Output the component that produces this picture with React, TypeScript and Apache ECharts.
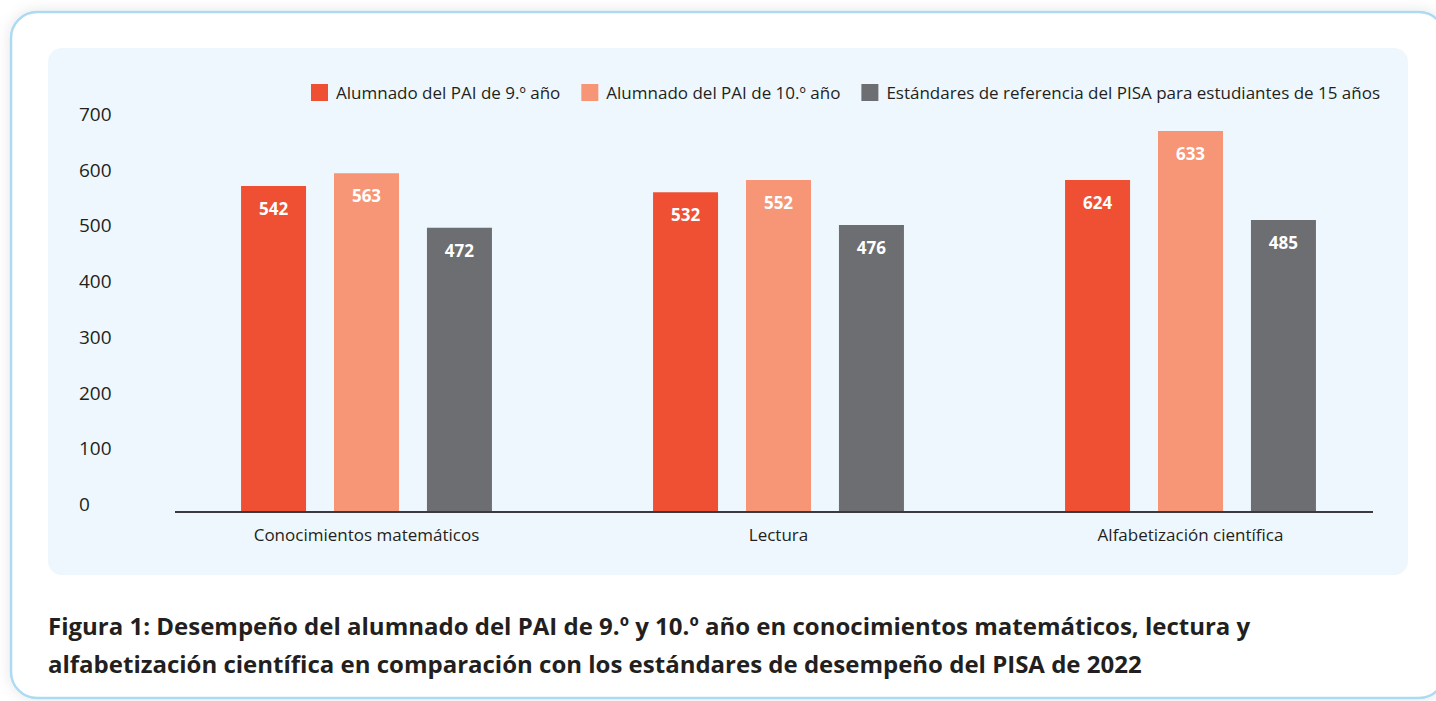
import React, { useEffect, useRef } from "react";
import * as echarts from "echarts";

const categories = ["Conocimientos matemáticos", "Lectura", "Alfabetización científica"];
const seriesNames = [
  "Alumnado del PAI de 9.º año",
  "Alumnado del PAI de 10.º año",
  "Estándares de referencia del PISA para estudiantes de 15 años",
];
// bar heights as drawn in the figure (axis units)
const drawn9 = [585, 574, 596];
const drawn10 = [608, 596, 684];
const drawnPisa = [510, 515, 524];
// values printed on the bars
const printed9 = [542, 532, 624];
const printed10 = [563, 552, 633];
const printedPisa = [472, 476, 485];
const yTicks = [0, 100, 200, 300, 400, 500, 600, 700];

const colors = ["#ef5033", "#f69676", "#6d6e71"];
const FONT = "Open Sans";
const TEXT = "#231f20";

export default function App() {
  const ref = useRef<HTMLDivElement>(null);
  useEffect(() => {
    if (!ref.current) return;
    const chart = echarts.init(ref.current, undefined, { renderer: "svg" });
    const mkSeries = (i: number, data: number[], printed: number[]) => ({
      name: seriesNames[i],
      type: "bar",
      data,
      barWidth: 65,
      barGap: "43%",
      itemStyle: { color: colors[i] },
      label: {
        show: true,
        position: "insideTop",
        distance: 14,
        color: "#ffffff",
        fontFamily: FONT,
        fontWeight: "bold",
        fontSize: 17,
        formatter: (p: any) => String(printed[p.dataIndex]),
      },
    });
    chart.setOption({
      animation: false,
      backgroundColor: "#ffffff",
      textStyle: { fontFamily: FONT },
      graphic: [
        {
          type: "rect",
          z: -10,
          shape: { x: 11, y: 12, width: 1434, height: 686, r: 26 },
          style: {
            fill: "#ffffff",
            stroke: "#acd9f3",
            lineWidth: 2.5,
            shadowBlur: 14,
            shadowColor: "rgba(0,0,0,0.10)",
          },
        },
        {
          type: "rect",
          z: -9,
          shape: { x: 48, y: 48, width: 1360, height: 527, r: 14 },
          style: { fill: "#eef7fd" },
        },
        {
          type: "line",
          z: 5,
          shape: { x1: 175, y1: 512, x2: 1373, y2: 512 },
          style: { stroke: "#3a3a3c", lineWidth: 2 },
        },
        {
          type: "text",
          x: 48,
          y: 625,
          style: {
            text: "Figura 1: Desempeño del alumnado del PAI de 9.º y 10.º año en conocimientos matemáticos, lectura y",
            fontFamily: FONT,
            fontWeight: "bold",
            fontSize: 24,
            fill: TEXT,
            verticalAlign: "middle",
          },
        },
        {
          type: "text",
          x: 48,
          y: 663,
          style: {
            text: "alfabetización científica en comparación con los estándares de desempeño del PISA de 2022",
            fontFamily: FONT,
            fontWeight: "bold",
            fontSize: 24,
            fill: TEXT,
            verticalAlign: "middle",
          },
        },
      ],
      legend: {
        left: 311,
        top: 84,
        padding: 0,
        itemWidth: 17,
        itemHeight: 17,
        itemGap: 21,
        icon: "rect",
        textStyle: { fontFamily: FONT, fontSize: 17, color: TEXT, padding: [0, 0, 0, 3] },
        data: seriesNames,
      },
      grid: { left: 160.5, right: 39.5, top: 122, bottom: 189 },
      xAxis: {
        type: "category",
        data: categories,
        axisLine: { show: false },
        axisTick: { show: false },
        axisLabel: { fontFamily: FONT, fontSize: 17, color: TEXT, margin: 14 },
      },
      yAxis: {
        type: "value",
        min: yTicks[0],
        max: yTicks[yTicks.length - 1],
        interval: 100,
        splitLine: { show: false },
        axisLine: { show: false },
        axisTick: { show: false },
        axisLabel: {
          fontFamily: FONT,
          fontSize: 19,
          color: TEXT,
          align: "left",
          verticalAlign: "bottom",
          lineHeight: 16,
          margin: 81.5,
        },
      },
      series: [
        mkSeries(0, drawn9, printed9),
        mkSeries(1, drawn10, printed10),
        mkSeries(2, drawnPisa, printedPisa),
      ],
    });
    return () => chart.dispose();
  }, []);
  return (
    <div
      ref={ref}
      style={{ position: "absolute", left: 0, top: 0, width: 1436, height: 701 }}
    />
  );
}
